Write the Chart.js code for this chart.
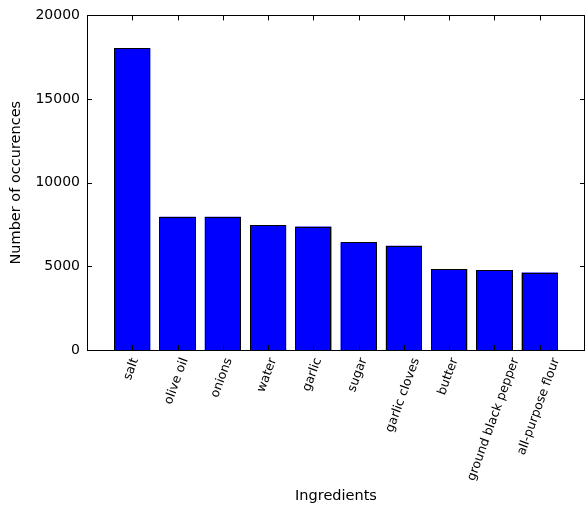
<!DOCTYPE html>
<html lang="en">
<head>
  <meta charset="UTF-8">
  <title>Ingredient occurences</title>
  <script src="https://cdn.jsdelivr.net/npm/chart.js"></script>
  <style>
    html, body { margin: 0; padding: 0; background: #fff; }
    canvas { display: block; }
  </style>
</head>
<body>
  <canvas id="chart" width="586" height="508"></canvas>
  <script>
    // Top 10 ingredients and how often they occur
    const ingredients = ['salt', 'olive oil', 'onions', 'water', 'garlic', 'sugar',
      'garlic cloves', 'butter', 'ground black pepper', 'all-purpose flour'];
    const counts = [18049, 7972, 7972, 7457, 7380, 6434, 6237, 4848, 4785, 4632];
    const yTicks = [0, 5000, 10000, 15000, 20000];

    const FONT = "'DejaVu Sans', sans-serif";

    // matplotlib style frame with inward ticks on all four sides
    const frameTicks = {
      id: 'frameTicks',
      afterDatasetsDraw(chart) {
        const { ctx, chartArea: a, scales: { x, y } } = chart;
        ctx.save();
        ctx.strokeStyle = '#000';
        ctx.lineWidth = 1;

        // crisp black bar edges
        chart.getDatasetMeta(0).data.forEach(bar => {
          const l = Math.round(bar.x - bar.width / 2) + 0.5;
          const r = Math.round(bar.x + bar.width / 2) - 0.5;
          const t = Math.round(bar.y) + 0.5;
          const b = Math.round(bar.base) + 0.5;
          ctx.strokeRect(l, t, r - l, b - t);
        });

        ctx.beginPath();
        ingredients.forEach((_, i) => {
          const px = Math.round(x.getPixelForValue(i)) + 0.5;
          ctx.moveTo(px, a.bottom); ctx.lineTo(px, a.bottom - 5);
          ctx.moveTo(px, a.top); ctx.lineTo(px, a.top + 5);
        });
        yTicks.forEach(v => {
          const py = Math.round(y.getPixelForValue(v)) + 0.5;
          ctx.moveTo(a.left, py); ctx.lineTo(a.left + 5, py);
          ctx.moveTo(a.right, py); ctx.lineTo(a.right - 5, py);
        });
        ctx.stroke();
        ctx.strokeRect(Math.round(a.left) + 0.5, Math.round(a.top) + 0.5,
          Math.round(a.right - a.left) - 1, Math.round(a.bottom - a.top));

        // rotated category labels, bbox centred under each tick
        const size = 12.5;
        const ang = 70 * Math.PI / 180;
        ctx.font = size + 'px ' + FONT;
        ctx.fillStyle = '#000';
        ctx.textAlign = 'center';
        ctx.textBaseline = 'middle';
        ingredients.forEach((name, i) => {
          const w = ctx.measureText(name).width;
          const h = size * 1.16;
          const H = w * Math.sin(ang) + h * Math.cos(ang);
          const cx = x.getPixelForValue(i) - 1;
          const cy = a.bottom + 6 + H / 2;
          ctx.save();
          ctx.translate(cx, cy);
          ctx.rotate(-ang);
          ctx.fillText(name, 0, 0);
          ctx.restore();
        });
        ctx.restore();
      }
    };

    new Chart(document.getElementById('chart'), {
      type: 'bar',
      data: {
        datasets: [{
          data: counts.map((c, i) => ({ x: i, y: c })),
          backgroundColor: '#0000ff',
          borderWidth: 0,
          barPercentage: 0.8,
          categoryPercentage: 1
        }]
      },
      options: {
        responsive: false,
        animation: false,
        devicePixelRatio: 1,
        layout: { padding: { top: 15, right: 1, left: 0, bottom: 0 } },
        plugins: { legend: { display: false }, tooltip: { enabled: false } },
        scales: {
          x: {
            type: 'linear',
            min: -1,
            max: 10,
            offset: false,
            afterFit: s => { s.height = 158; },
            grid: { display: false },
            border: { display: false },
            ticks: { display: false, stepSize: 1 },
            title: {
              display: true,
              text: 'Ingredients',
              color: '#000',
              font: { family: FONT, size: 14.5 },
              padding: { top: 0, bottom: 3 }
            }
          },
          y: {
            min: 0,
            max: 20000,
            afterFit: s => { s.width = 87; },
            afterBuildTicks: s => { s.ticks = yTicks.map(v => ({ value: v })); },
            grid: { display: false, drawTicks: false },
            border: { display: false },
            ticks: {
              color: '#000',
              padding: 7,
              font: { family: FONT, size: 14 },
              callback: v => String(v)
            },
            title: {
              display: true,
              text: 'Number of occurences',
              color: '#000',
              font: { family: FONT, size: 14.5 },
              padding: { top: 8, bottom: 0 }
            }
          }
        }
      },
      plugins: [frameTicks]
    });
  </script>
</body>
</html>
